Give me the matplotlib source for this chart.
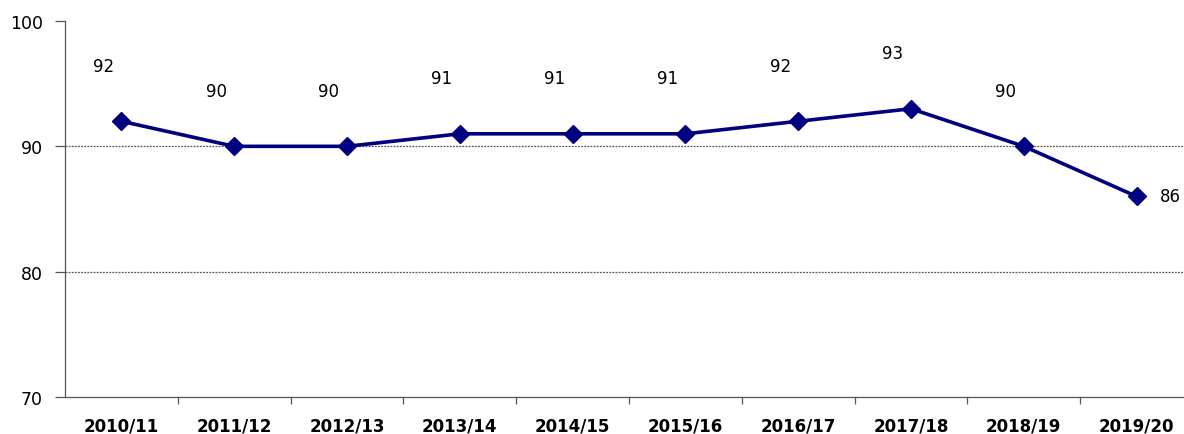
import matplotlib
matplotlib.use("Agg")
import matplotlib.pyplot as plt
from matplotlib.ticker import FixedLocator, NullFormatter

categories = ["2010/11", "2011/12", "2012/13", "2013/14", "2014/15",
              "2015/16", "2016/17", "2017/18", "2018/19", "2019/20"]
values = [92, 90, 90, 91, 91, 91, 92, 93, 90, 86]
y_ticks = [70, 80, 90, 100]

W, H = 1184, 435
fig = plt.figure(figsize=(W / 100, H / 100), dpi=100)
left, right = 65, 1193
top, bottom = 22, 398
ax = fig.add_axes([left / W, 1 - bottom / H, (right - left) / W, (bottom - top) / H])

x = list(range(len(categories)))
ax.plot(x, values, color="#000080", lw=2.6, marker="D", markersize=9,
        markeredgecolor="#000080", markerfacecolor="#000080", zorder=3)

ax.set_xlim(-0.5, len(categories) - 0.5)
ax.set_ylim(70, 100)
ax.set_yticks(y_ticks)
ax.set_yticklabels([str(v) for v in y_ticks])
for gy in y_ticks[1:-1]:
    ax.axhline(gy, color="#555555", lw=0.9, ls=(0, (1.5, 1)), zorder=1)

ax.set_xticks(x)
ax.set_xticklabels(categories, fontweight="bold")
ax.tick_params(axis="x", which="major", length=0, pad=14, labelsize=12)
ax.xaxis.set_minor_locator(FixedLocator([i - 0.5 for i in range(1, len(categories))]))
ax.xaxis.set_minor_formatter(NullFormatter())
ax.tick_params(axis="x", which="minor", length=5, width=0.9, color="#555555", direction="out")
ax.tick_params(axis="y", length=7, width=0.9, color="#555555", pad=9, labelsize=12.5)

for s in ["top", "right"]:
    ax.spines[s].set_visible(False)
for s in ["left", "bottom"]:
    ax.spines[s].set_color("#555555")
    ax.spines[s].set_linewidth(0.9)
    ax.spines[s].set_linestyle((0, (1.5, 1)))

for i, v in enumerate(values):
    if i == len(values) - 1:
        ax.annotate(str(v), (i, v), xytext=(17, 0), textcoords="offset points",
                    ha="left", va="center", fontsize=12)
    else:
        ax.annotate(str(v), (i, v), xytext=(-13, 40), textcoords="offset points",
                    ha="center", va="center", fontsize=12)

fig.savefig("out.png", dpi=100)
